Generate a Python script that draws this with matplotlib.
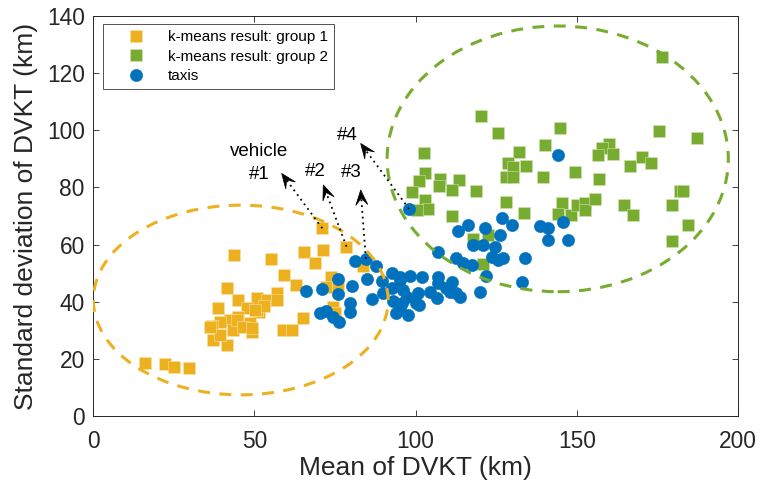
import numpy as np
import matplotlib
matplotlib.use("Agg")
import matplotlib.pyplot as plt
from matplotlib.patches import Ellipse, Polygon

plt.rcParams["font.family"] = ["Liberation Sans", "DejaVu Sans"]

# k-means group 1 (mean DVKT, std DVKT), km
g1_mean = [71.1, 78.6, 43.8, 55.2, 65.5, 71.2, 68.9, 59.2, 63.0, 73.9,
           72.4, 76.1, 41.6, 44.9, 38.9, 50.7, 53.8, 57.2, 57.0, 51.6,
           47.7, 45.1, 42.5, 39.4, 36.8, 48.7, 49.2, 41.5, 37.3, 43.5,
           58.8, 61.6, 65.0, 74.5, 75.0, 16.1, 22.3, 25.1, 29.9, 83.8,
           50.7, 44.6, 39.5, 46.5, 53.0, 36.3, 49.2, 50.2]
g1_std = [65.7, 59.3, 56.4, 54.8, 57.5, 58.1, 53.7, 49.4, 45.9, 48.8,
          45.3, 45.3, 44.7, 40.6, 37.9, 41.2, 40.6, 42.9, 40.6, 36.5,
          37.7, 34.8, 33.6, 33.0, 31.5, 32.4, 29.5, 24.9, 26.6, 30.1,
          30.1, 30.1, 34.2, 38.3, 36.0, 18.4, 18.1, 17.3, 16.7, 52.5,
          37.1, 33.6, 28.5, 31.0, 38.5, 31.1, 30.7, 37.1]

# k-means group 2
g2_mean = [120.2, 125.7, 140.2, 132.2, 102.6, 128.8, 130.3, 134.4, 128.2, 130.3,
           139.6, 102.9, 101.1, 107.6, 107.4, 113.5, 111.4, 118.9, 99.0, 102.9,
           104.0, 100.6, 128.2, 133.6, 111.4, 144.8, 176.4, 175.6, 187.2, 160.0,
           157.7, 156.7, 161.1, 166.5, 170.1, 173.0, 149.5, 157.0, 145.3, 144.3,
           148.1, 150.0, 152.6, 152.6, 155.7, 164.7, 167.5, 182.0, 183.0, 179.4,
           184.4, 179.4, 117.9, 122.6, 121.0]
g2_std = [105.0, 99.2, 94.9, 92.3, 92.2, 88.7, 87.3, 87.5, 83.8, 83.8,
          83.5, 85.0, 82.3, 82.8, 80.5, 82.6, 79.1, 78.8, 78.3, 75.6,
          72.5, 72.1, 75.0, 71.2, 70.1, 100.8, 125.8, 99.9, 97.2, 95.2,
          93.7, 91.4, 91.6, 87.5, 90.5, 88.4, 85.3, 82.9, 74.4, 70.7,
          70.4, 73.9, 74.4, 72.1, 75.8, 73.9, 70.4, 78.8, 78.8, 73.9,
          66.9, 61.1, 62.1, 63.4, 53.2]

# taxis
taxi_mean = [81.2, 84.6, 87.8, 92.6, 84.9, 89.5, 76.0, 80.2, 76.0, 70.9,
             66.0, 79.7, 79.7, 86.4, 70.4, 72.4, 74.3, 76.4, 90.0, 92.6,
             95.2, 96.2, 95.7, 95.2, 98.3, 101.9, 93.1, 95.2, 97.8, 97.3,
             100.9, 100.3, 104.5, 106.6, 107.1, 107.1, 111.2, 110.7, 113.8, 107.1,
             112.7, 114.8, 117.4, 120.0, 122.0, 117.9, 121.0, 113.3, 116.4, 121.6,
             126.2, 124.7, 123.6, 125.7, 127.2, 126.7, 129.8, 134.0, 133.0, 138.6,
             141.2, 145.8, 141.2, 147.4, 144.3, 98.0, 109.6, 112.7, 101.0, 94.0]
taxi_std = [54.4, 55.0, 52.5, 50.2, 48.0, 47.4, 48.0, 45.6, 42.6, 44.5,
            43.9, 39.4, 36.3, 40.8, 36.2, 36.9, 34.8, 32.8, 42.9, 44.7,
            48.8, 44.1, 39.4, 47.6, 49.1, 48.8, 40.1, 37.7, 35.4, 41.8,
            42.9, 39.4, 43.5, 41.2, 48.8, 46.4, 47.0, 43.5, 41.8, 57.5,
            55.2, 53.4, 52.8, 43.5, 49.1, 59.9, 59.9, 64.6, 66.9, 65.7,
            63.4, 59.3, 55.8, 54.6, 55.2, 69.2, 66.9, 55.2, 47.0, 66.5,
            65.7, 68.0, 61.6, 61.6, 91.4, 72.5, 44.7, 42.9, 38.9, 36.0]

# highlighted vehicles: label, (mean, std) of the vehicle, arrow tip, label anchor
vehicle_labels = ["vehicle\n#1", "#2", "#3", "#4"]
vehicle_pts = [(71.1, 65.7), (78.6, 59.3), (84.6, 55.0), (98.0, 72.5)]
arrow_tips = [(58.5, 84.9), (71.4, 80.9), (83.0, 79.1), (83.0, 95.4)]
label_pos = [(51.6, 88.5), (68.8, 85.6), (80.2, 85.3), (79.0, 98.1)]

# cluster outlines: center, width, height (data units)
ellipse_g1 = ((45.8, 40.6), 91.4, 66.4)
ellipse_g2 = ((144.1, 90.0), 105.8, 93.0)

C_G1 = "#EDB120"
C_G2 = "#77AC30"
C_TAXI = "#0072BD"
DARK = "#262626"

fig = plt.figure(figsize=(7.62, 4.94), dpi=100)
ax = fig.add_axes([93 / 762, 1 - 416 / 494, 645 / 762, 400 / 494])
ax.set_xlim(0, 200)
ax.set_ylim(0, 140)

ax.plot(g1_mean, g1_std, "s", color=C_G1, ms=8.4, mec="#f7e3a8", mew=0.4,
        label="k-means result: group 1", zorder=2)
ax.plot(g2_mean, g2_std, "s", color=C_G2, ms=8.4, mec="#cfe3b5", mew=0.4,
        label="k-means result: group 2", zorder=2)
ax.plot(taxi_mean, taxi_std, "o", color=C_TAXI, ms=8.8, mec=C_TAXI, mew=0.4,
        label="taxis", zorder=3)

for (c, w, h), col in ((ellipse_g1, C_G1), (ellipse_g2, C_G2)):
    ax.add_patch(Ellipse(c, w, h, fill=False, edgecolor=col, lw=2.2,
                         linestyle=(0, (3.9, 3.1)), zorder=4))


def arrow_head(tip, tail, length=15.0, width=12.0, notch=0.55):
    """Swept-back arrowhead (pixel-sized) pointing from tail to tip."""
    t = ax.transData.transform(tip)
    s = ax.transData.transform(tail)
    d = (t - s) / np.hypot(*(t - s))
    n = np.array([-d[1], d[0]])
    pts = [t,
           t - d * length + n * width / 2,
           t - d * length * notch,
           t - d * length - n * width / 2]
    return ax.transData.inverted().transform(np.array(pts)), t - d * length * notch


for lab, p0, p1, lp in zip(vehicle_labels, vehicle_pts, arrow_tips, label_pos):
    head, back = arrow_head(p1, p0)
    back_data = ax.transData.inverted().transform(back)
    ax.plot([p0[0], back_data[0]], [p0[1], back_data[1]], color="black", lw=1.3,
            linestyle=(0, (1, 2.2)), zorder=5)
    ax.add_patch(Polygon(head, closed=True, facecolor="black", edgecolor="black",
                         lw=0.5, zorder=5))
    ax.text(lp[0], lp[1], lab, ha="center", va="center", fontsize=13.5,
            color="black", linespacing=1.5, zorder=6)

ax.set_xticks([0, 50, 100, 150, 200])
ax.set_yticks([0, 20, 40, 60, 80, 100, 120, 140])
ax.tick_params(direction="in", top=True, right=True, length=4.5, width=0.6,
               labelsize=16.4, colors=DARK)
ax.tick_params(axis="x", pad=10)
ax.tick_params(axis="y", pad=6)
for s in ax.spines.values():
    s.set_color(DARK)
    s.set_linewidth(0.7)

ax.set_xlabel("Mean of DVKT (km)", fontsize=19, color=DARK, labelpad=2)
ax.set_ylabel("Standard deviation of DVKT (km)", fontsize=19, color=DARK, labelpad=6)

leg = ax.legend(loc="upper left", bbox_to_anchor=(0.015, 0.98), borderaxespad=0,
                fontsize=11, frameon=True, fancybox=False, handlelength=3.5,
                handletextpad=0.35, borderpad=0.4, labelspacing=0.36,
                markerscale=1.0)
leg.get_frame().set_edgecolor(DARK)
leg.get_frame().set_linewidth(0.7)
for t in leg.get_texts():
    t.set_color("black")

fig.savefig("out.png", dpi=100)
